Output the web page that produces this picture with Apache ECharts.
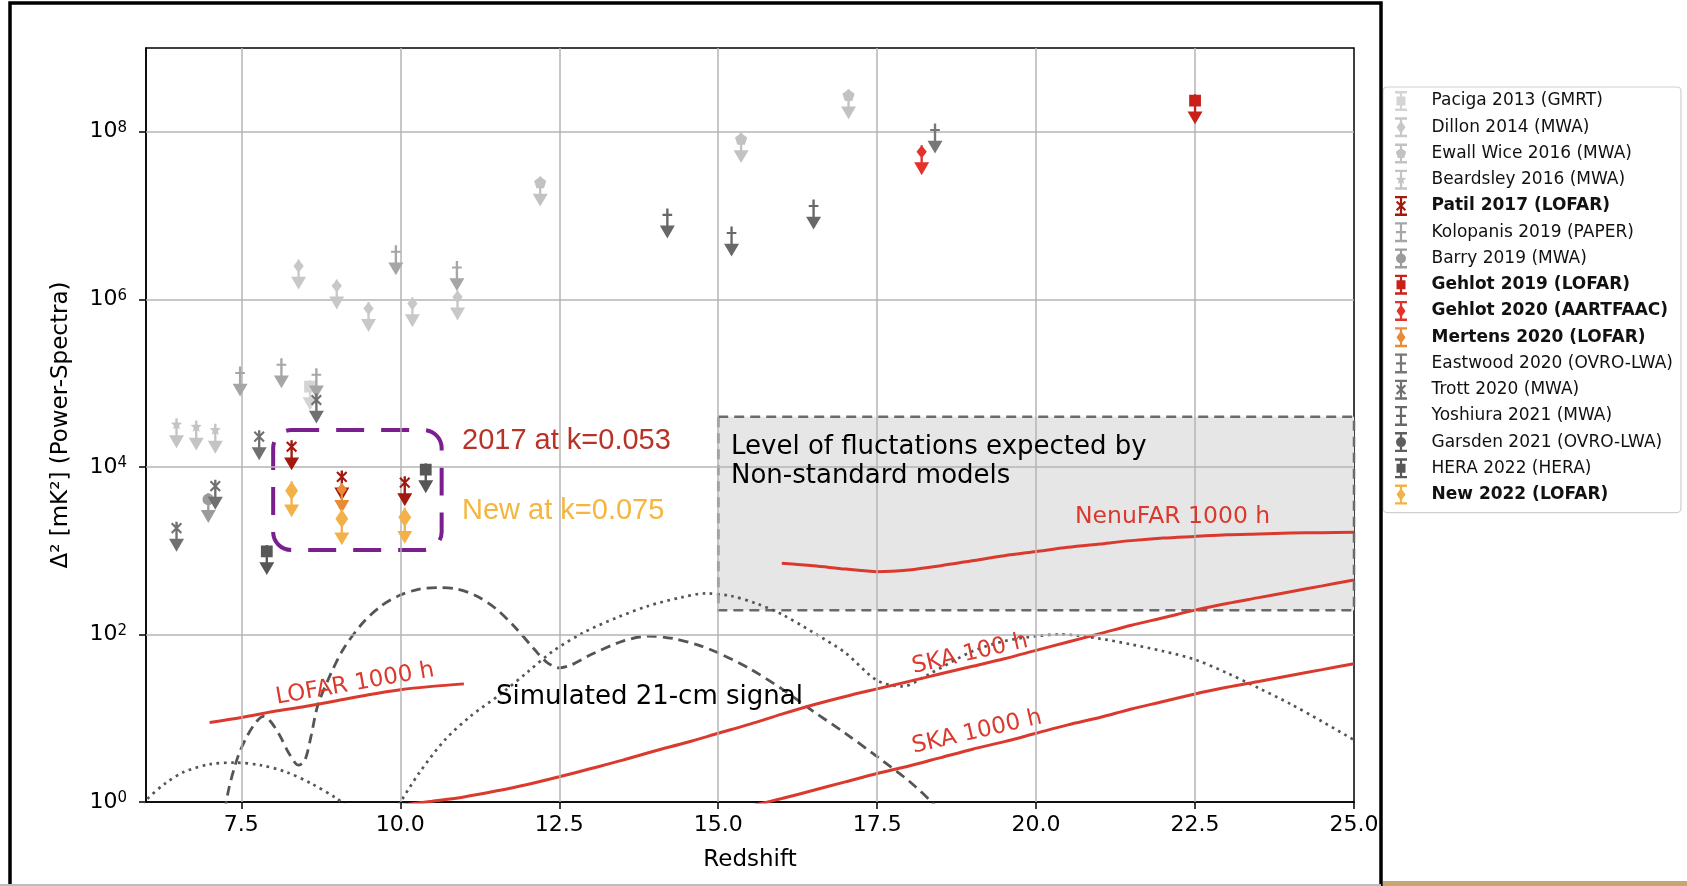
<!DOCTYPE html>
<html><head><meta charset="utf-8">
<script src="https://cdn.jsdelivr.net/npm/echarts@6/dist/echarts.min.js"></script>
<style>html,body{margin:0;padding:0;background:#fff;}#c{width:1687px;height:886px;}</style>
</head><body><div id="c"></div>
<script>
// ---------- axes ----------
const xTicks = [7.5, 10, 12.5, 15, 17.5, 20, 22.5, 25];
const yTicks = [1, 1e2, 1e4, 1e6, 1e8];
const xGrid = [7.5, 10, 12.5, 15, 17.5, 20, 22.5];
const yGrid = [1e2, 1e4, 1e6, 1e8];

// ---------- sensitivity / model curves (redshift, value) ----------
const lofarZ = [7.0, 7.5, 8.0, 8.5, 9.0, 9.5, 10.0, 10.5, 11.0];
const lofarV = [8.9, 10.2, 12.0, 13.8, 16.2, 19.1, 21.9, 24.0, 25.7];

const nenufarZ = [16, 16.5, 17, 17.5, 18, 18.5, 19, 19.5, 20, 20.5, 21, 21.5, 22, 22.5, 23, 23.5, 24, 24.5, 25];
const nenufarV = [708, 661, 603, 562, 589, 661, 759, 871, 977, 1096, 1202, 1318, 1413, 1479, 1549, 1585, 1622, 1641, 1660];

const ska100Z = [10.0, 10.5, 11, 11.5, 12, 12.5, 13, 13.5, 14, 14.5, 15, 15.5, 16, 16.5, 17, 17.5, 18, 18.5, 19, 19.5, 20, 20.5, 21, 21.5, 22, 22.5, 23, 23.5, 24, 24.5, 25];
const ska100V = [0.91, 1.02, 1.15, 1.35, 1.62, 2.0, 2.51, 3.16, 4.07, 5.13, 6.61, 8.51, 11.2, 14.5, 18.2, 22.4, 27.5, 33.9, 41.7, 51.3, 64.6, 81.3, 102, 129, 158, 195, 234, 275, 324, 380, 447];

const ska1000Z = [15.5, 16, 16.5, 17, 17.5, 18, 18.5, 19, 19.5, 20, 20.5, 21, 21.5, 22, 22.5, 23, 23.5, 24, 24.5, 25];
const ska1000V = [0.89, 1.10, 1.38, 1.74, 2.19, 2.69, 3.39, 4.27, 5.25, 6.61, 8.32, 10.2, 12.9, 15.8, 19.5, 23.4, 27.5, 32.4, 38.0, 44.7];

const dashedZ = [7.2, 7.3, 7.45, 7.6, 7.75, 7.85, 7.95, 8.1, 8.25, 8.4, 8.5, 8.6, 8.7, 8.9, 9.1, 9.4, 9.7, 10.0, 10.3, 10.6, 10.9, 11.2, 11.5, 11.8, 12.1, 12.3, 12.5, 12.7, 13.0, 13.5, 13.9, 14.3, 14.7, 15.0, 15.5, 16.0, 16.5, 17.0, 17.5, 18.0, 18.4, 18.6];
const dashedV = [0.5, 1.41, 3.55, 6.31, 9.33, 10.5, 9.33, 6.31, 3.8, 2.75, 3.16, 6.31, 14.1, 33.1, 66.1, 135, 219, 295, 347, 363, 347, 288, 204, 123, 67.6, 46.8, 39.8, 43.7, 57.5, 83.2, 95.5, 89.1, 74.1, 60.3, 38.9, 22.4, 12.0, 6.61, 3.47, 1.78, 0.93, 0.63];

const dotted1Z = [5.9, 6.0, 6.3, 6.6, 7.0, 7.4, 7.8, 8.2, 8.6, 9.0, 9.2];
const dotted1V = [0.79, 1.05, 1.66, 2.29, 2.82, 2.95, 2.75, 2.29, 1.66, 1.10, 0.83];

const dotted2Z = [9.9, 10.0, 10.3, 10.7, 11.1, 11.6, 12.0, 12.4, 12.9, 13.4, 13.9, 14.4, 14.8, 15.2, 15.6, 16.0, 16.5, 17.0, 17.5, 17.9, 18.3, 19.0, 19.5, 20.0, 20.4, 21.0, 21.5, 22.0, 22.5, 23.0, 23.5, 24.0, 24.5, 25.0];
const dotted2V = [0.79, 1.0, 2.24, 5.5, 10.5, 20.0, 35.5, 63.1, 107, 158, 219, 275, 309, 288, 234, 174, 105, 60.3, 28.2, 24.0, 33.1, 63.1, 83.2, 95.5, 100, 89.1, 75.9, 63.1, 50.1, 34.7, 22.9, 14.8, 9.12, 5.5];

// ---------- upper limits [redshift, Delta^2 mK^2] ----------
const paciga2013 = [[8.58, 9.1e4]];
const dillon2014 = [[8.40, 2.5e6], [9.0, 1.45e6], [9.50, 7.8e5], [10.19, 8.9e5], [10.9, 1.07e6]];
const ewallWice2016 = [[12.2, 2.45e7], [15.36, 8.1e7], [17.05, 2.7e8]];
const beardsley2016 = [[6.48, 3.2e4], [6.79, 3.0e4], [7.09, 2.75e4]];
const patil2017 = [[8.29, 1.74e4], [9.08, 7.6e3], [10.07, 6.5e3]];
const kolopanis2019 = [[7.48, 1.32e5], [8.13, 1.66e5], [8.68, 1.26e5], [9.93, 3.7e6], [10.89, 2.4e6]];
const barry2019 = [[6.98, 4.1e3]];
const gehlot2019 = [[22.5, 2.35e8]];
const gehlot2020 = [[18.2, 5.8e7]];
const mertens2020 = [[9.08, 5.4e3]];
const eastwood2020 = [[18.41, 1.05e8]];
const trott2020 = [[6.48, 1.86e3], [7.09, 5.9e3], [7.78, 2.3e4], [8.68, 6.3e4]];
const yoshiura2021 = [[14.2, 1.02e7], [15.21, 6.2e6], [16.5, 1.3e7]];
const garsden2021 = [];
const hera2022 = [[7.9, 9.8e2], [10.4, 9.3e3]];
const new2022 = [[8.29, 5.2e3], [9.08, 2.4e3], [10.07, 2.5e3]];

// ---------- annotation regions ----------
const greyBox = [15, 3.98e4, 25, 195];        // z0, top, z1, bottom
const purpleBox = [8.0, 2.75e4, 10.65, 1.02e3];

// ---------- symbols ----------
const MK = {
  square: 'M1.5,0.5 H12.5 V11.5 H1.5 Z',
  diamond: 'M7,0 L11.8,6 L7,12.5 L2.2,6 Z',
  pentagon: 'M7,0 L12.7,4.1 L10.5,10.9 L3.5,10.9 L1.3,4.1 Z',
  circle: 'M1.5,6 A5.5,5.5 0 1,1 12.5,6 A5.5,5.5 0 1,1 1.5,6 Z',
  x: 'M3.2,0.8 L12.2,9.8 L10.8,11.2 L1.8,2.2 Z M10.8,0.8 L12.2,2.2 L3.2,11.2 L1.8,9.8 Z',
  plus: 'M2.5,5 H11.5 V7 H2.5 Z',
  star: 'M7,0.5 L8.47,3.98 L12.23,4.3 L9.38,6.77 L10.23,10.45 L7,8.5 L3.77,10.45 L4.62,6.77 L1.77,4.3 L5.53,3.98 Z'
};
const STEM = ' M5.9,0 H8.1 V18 H5.9 Z M0,16 L14,16 L7,28 Z';
const BIGDIAMOND = 'path://M7,0 L13,9 L7,18 L1,9 Z M5.9,0 H8.1 V24 H5.9 Z M0,22 L14,22 L7,34 Z';
const LG = {
  square: 'M2,5.5 H11 V14.5 H2 Z',
  diamond: 'M6.5,3.5 L11,10 L6.5,16.5 L2,10 Z',
  pentagon: 'M6.5,4.5 L11.7,8.3 L9.7,14.4 L3.3,14.4 L1.3,8.3 Z',
  circle: 'M1.5,10 A5,5 0 1,1 11.5,10 A5,5 0 1,1 1.5,10 Z',
  x: 'M2.9,4.9 L11.6,13.6 L10.1,15.1 L1.4,6.4 Z M10.1,4.9 L11.6,6.4 L2.9,15.1 L1.4,13.6 Z',
  plus: 'M1.5,8.9 H11.5 V11.1 H1.5 Z',
  star: 'M6.5,4.5 L7.9,8.1 L11.7,8.3 L8.8,10.7 L9.7,14.4 L6.5,12.4 L3.3,14.4 L4.2,10.7 L1.3,8.3 L5.1,8.1 Z'
};
const LG_BASE = 'M0.5,0 H12.5 V2.4 H0.5 Z M0.5,17.6 H12.5 V20 H0.5 Z M5.4,0 H7.6 V20 H5.4 Z ';

const datasets = [
  ['Paciga 2013 (GMRT)', paciga2013, 'square', '#d4d4d4', false],
  ['Dillon 2014 (MWA)', dillon2014, 'diamond', '#c8c8c8', false],
  ['Ewall Wice 2016 (MWA)', ewallWice2016, 'pentagon', '#c2c2c2', false],
  ['Beardsley 2016 (MWA)', beardsley2016, 'star', '#c4c4c4', false],
  ['Patil 2017 (LOFAR)', patil2017, 'x', '#a3190f', true],
  ['Kolopanis 2019 (PAPER)', kolopanis2019, 'plus', '#a6a6a6', false],
  ['Barry 2019 (MWA)', barry2019, 'circle', '#9b9b9b', false],
  ['Gehlot 2019 (LOFAR)', gehlot2019, 'square', '#c9211a', true],
  ['Gehlot 2020 (AARTFAAC)', gehlot2020, 'diamond', '#e3322b', true],
  ['Mertens 2020 (LOFAR)', mertens2020, 'diamond', '#e98a35', true],
  ['Eastwood 2020 (OVRO-LWA)', eastwood2020, 'plus', '#777777', false],
  ['Trott 2020 (MWA)', trott2020, 'x', '#707070', false],
  ['Yoshiura 2021 (MWA)', yoshiura2021, 'plus', '#686868', false],
  ['Garsden 2021 (OVRO-LWA)', garsden2021, 'circle', '#5e5e5e', false],
  ['HERA 2022 (HERA)', hera2022, 'square', '#575757', false],
  ['New 2022 (LOFAR)', new2022, 'diamond', '#f3b14a', true]
];

const RED = '#da3a2e';
const FONT = 'DejaVu Sans';
const pair = (zs, vs) => zs.map((z, i) => [z, vs[i]]);

const series = [];
series.push({
  type: 'line', name: '_box', data: [], z: 1, silent: true,
  markArea: {
    silent: true,
    itemStyle: { color: '#e6e6e6', borderColor: '#6b6b6b', borderWidth: 2.5, borderType: [10, 6] },
    data: [[{ xAxis: greyBox[0], yAxis: greyBox[1] }, { xAxis: greyBox[2], yAxis: greyBox[3] }]]
  }
});
series.push({
  type: 'line', name: '_grid', data: [], z: 2, silent: true,
  markLine: {
    silent: true, symbol: ['none', 'none'], label: { show: false },
    lineStyle: { color: '#b5b5b5', width: 1.5, type: 'solid' },
    emphasis: { disabled: true },
    data: xGrid.map(v => ({ xAxis: v })).concat(yGrid.map(v => ({ yAxis: v })))
  }
});
function curve(name, zs, vs, ls) {
  return { type: 'line', name, data: pair(zs, vs), symbol: 'none', showSymbol: false, smooth: 0.3,
           lineStyle: ls, z: 3, silent: true, clip: true, emphasis: { disabled: true } };
}
series.push(curve('_dot1', dotted1Z, dotted1V, { color: '#555', width: 2.7, type: [2.7, 4.5] }));
series.push(curve('_dot2', dotted2Z, dotted2V, { color: '#555', width: 2.7, type: [2.7, 4.5] }));
series.push(curve('_dash', dashedZ, dashedV, { color: '#555', width: 2.8, type: [10, 6] }));
series.push(curve('_lofar', lofarZ, lofarV, { color: RED, width: 3 }));
series.push(curve('_nenufar', nenufarZ, nenufarV, { color: RED, width: 3 }));
series.push(curve('_ska100', ska100Z, ska100V, { color: RED, width: 3 }));
series.push(curve('_ska1000', ska1000Z, ska1000V, { color: RED, width: 3 }));

series.push({
  type: 'custom', name: '_purple', z: 4, silent: true,
  data: [purpleBox],
  encode: { x: [0, 2], y: [1, 3] },
  renderItem: function (params, api) {
    const p1 = api.coord([api.value(0), api.value(1)]);
    const p2 = api.coord([api.value(2), api.value(3)]);
    return { type: 'rect', shape: { x: p1[0], y: p1[1], width: p2[0] - p1[0], height: p2[1] - p1[1], r: 18 },
             style: { fill: 'none', stroke: '#7b1f8e', lineWidth: 4, lineDash: [28, 17] } };
  }
});

datasets.forEach(d => {
  const big = d[0] === 'New 2022 (LOFAR)';
  series.push({
    type: 'scatter', name: d[0], data: d[1], z: 5,
    symbol: big ? BIGDIAMOND : 'path://' + MK[d[2]] + STEM,
    symbolSize: big ? [15, 36] : [15, 30],
    symbolOffset: big ? [0, 8.5] : [0, 8.6],
    itemStyle: { color: d[3], opacity: 1 },
    emphasis: { disabled: true }
  });
});

const boldSet = {};
datasets.forEach(d => { if (d[4]) boldSet[d[0]] = true; });

const supLabel = v => '{a|10}{s|' + Math.round(Math.log10(v)) + '}';

const option = {
  animation: false,
  backgroundColor: '#fff',
  grid: { left: 146, top: 48, right: 333, bottom: 84, containLabel: false, outerBoundsMode: 'none',
          show: true, borderColor: '#000', borderWidth: 1.5, backgroundColor: 'transparent' },
  xAxis: {
    type: 'value', min: 6, max: 25,
    name: 'Redshift', nameLocation: 'middle', nameGap: 47,
    nameTextStyle: { fontFamily: FONT, fontSize: 23, color: '#000' },
    axisLine: { show: true, onZero: false, lineStyle: { color: '#000', width: 1.5 } },
    axisTick: { show: true, length: 7, customValues: xTicks, lineStyle: { color: '#000', width: 1.5 } },
    axisLabel: { customValues: xTicks, formatter: v => Number(v).toFixed(1), fontFamily: FONT, fontSize: 22, color: '#000', margin: 12 },
    splitLine: { show: false }
  },
  yAxis: {
    type: 'log', logBase: 10, min: 1, max: 1e9,
    name: 'Δ² [mK²] (Power-Spectra)', nameLocation: 'middle', nameGap: 73,
    nameTextStyle: { fontFamily: FONT, fontSize: 23, color: '#000' },
    axisLine: { show: true, onZero: false, lineStyle: { color: '#000', width: 1.5 } },
    axisTick: { show: true, length: 7, customValues: yTicks, lineStyle: { color: '#000', width: 1.5 } },
    axisLabel: {
      customValues: yTicks, formatter: supLabel, margin: 19,
      rich: {
        a: { fontFamily: FONT, fontSize: 22, color: '#000' },
        s: { fontFamily: FONT, fontSize: 15, color: '#000', verticalAlign: 'top' }
      }
    },
    splitLine: { show: false }, minorTick: { show: false }
  },
  legend: {
    orient: 'vertical', left: 1383, top: 87, selectedMode: false,
    itemWidth: 13, itemHeight: 20, itemGap: 6.24, symbolKeepAspect: true,
    padding: [4, 8, 8, 12],
    borderColor: '#cfcfcf', borderWidth: 1.2, borderRadius: 4, backgroundColor: '#fff',
    textStyle: { fontFamily: FONT, fontSize: 17, color: '#111',
                 rich: {
                   n: { fontFamily: FONT, fontSize: 17, color: '#111', padding: [0, 0, 0, 19] },
                   b: { fontFamily: FONT, fontSize: 17, color: '#111', fontWeight: 'bold', padding: [0, 0, 0, 19] }
                 } },
    formatter: name => boldSet[name] ? '{b|' + name + '}' : '{n|' + name + '}',
    data: datasets.map(d => ({ name: d[0], icon: 'path://' + LG_BASE + LG[d[2]] }))
  },
  graphic: [
    { type: 'rect', z: 200, silent: true, shape: { x: 10, y: 3, width: 1371, height: 900 },
      style: { fill: 'none', stroke: '#000', lineWidth: 3.5 } },
    { type: 'rect', z: 200, silent: true, shape: { x: 0, y: 884, width: 1381, height: 2 }, style: { fill: '#bdbdbd' } },
    { type: 'rect', z: 200, silent: true, shape: { x: 1383, y: 881, width: 304, height: 5 }, style: { fill: '#c9a572' } },
    { type: 'text', z: 100, silent: true, x: 462, y: 441,
      style: { text: '2017 at k=0.053', fill: '#b83228', font: '29px "Liberation Sans", Arial, sans-serif', textVerticalAlign: 'middle', verticalAlign: 'middle' } },
    { type: 'text', z: 100, silent: true, x: 462, y: 511,
      style: { text: 'New at k=0.075', fill: '#f4b63e', font: '29px "Liberation Sans", Arial, sans-serif', textVerticalAlign: 'middle', verticalAlign: 'middle' } },
    { type: 'text', z: 100, silent: true, x: 731, y: 447,
      style: { text: 'Level of fluctations expected by', fill: '#000', font: '26px "DejaVu Sans"', textVerticalAlign: 'middle', verticalAlign: 'middle' } },
    { type: 'text', z: 100, silent: true, x: 731, y: 476,
      style: { text: 'Non-standard models', fill: '#000', font: '26px "DejaVu Sans"', textVerticalAlign: 'middle', verticalAlign: 'middle' } },
    { type: 'text', z: 100, silent: true, x: 1075, y: 517,
      style: { text: 'NenuFAR 1000 h', fill: RED, font: '23.5px "DejaVu Sans"', textVerticalAlign: 'middle', verticalAlign: 'middle' } },
    { type: 'text', z: 100, silent: true, x: 496, y: 697,
      style: { text: 'Simulated 21-cm signal', fill: '#000', font: '26px "DejaVu Sans"', textVerticalAlign: 'middle', verticalAlign: 'middle' } },
    { type: 'text', z: 100, silent: true, x: 355, y: 684, rotation: 10 * Math.PI / 180,
      style: { text: 'LOFAR 1000 h', fill: RED, font: '23px "DejaVu Sans"', textAlign: 'center', align: 'center', textVerticalAlign: 'middle', verticalAlign: 'middle' } },
    { type: 'text', z: 100, silent: true, x: 970, y: 654, rotation: 13 * Math.PI / 180,
      style: { text: 'SKA 100 h', fill: RED, font: '23px "DejaVu Sans"', textAlign: 'center', align: 'center', textVerticalAlign: 'middle', verticalAlign: 'middle' } },
    { type: 'text', z: 100, silent: true, x: 977, y: 732, rotation: 13 * Math.PI / 180,
      style: { text: 'SKA 1000 h', fill: RED, font: '23px "DejaVu Sans"', textAlign: 'center', align: 'center', textVerticalAlign: 'middle', verticalAlign: 'middle' } }
  ],
  series: series
};

const chart = echarts.init(document.getElementById('c'), null, { renderer: 'canvas' });
chart.setOption(option);
</script>
</body></html>
